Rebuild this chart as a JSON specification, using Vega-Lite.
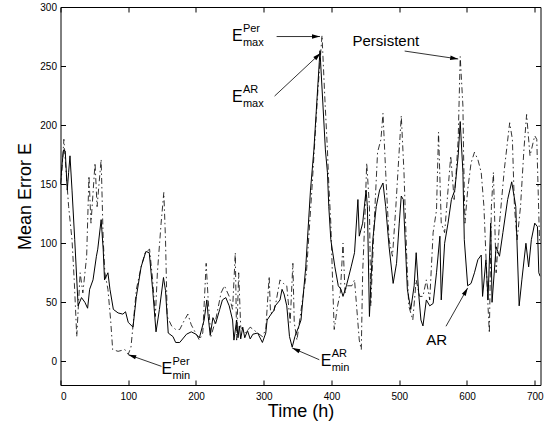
{
  "$schema": "https://vega.github.io/schema/vega-lite/v6.json",
  "width": 480,
  "height": 378,
  "autosize": {"type": "none"},
  "padding": {"left": 60.5, "top": 7, "right": 8.5, "bottom": 41},
  "config": {
    "font": "Liberation Sans",
    "view": {"stroke": null},
    "axis": {
      "domainColor": "black", "domainWidth": 1, "tickColor": "black", "tickSize": -5, "tickWidth": 1,
      "grid": false, "labelColor": "black", "labelFontSize": 10, "titleColor": "black",
      "titleFontSize": 18, "titleFontWeight": "normal"
    }
  },
  "datasets": {
    "lines": [
      {"t":0,"v":150,"s":"AR"},{"t":2,"v":165,"s":"AR"},{"t":4.4,"v":179,"s":"AR"},{"t":7,"v":178,"s":"AR"},{"t":10,"v":145,"s":"AR"},{"t":12,"v":160,"s":"AR"},{"t":14,"v":174,"s":"AR"},{"t":17,"v":145,"s":"AR"},{"t":21,"v":103,"s":"AR"},{"t":26,"v":47,"s":"AR"},{"t":31,"v":54,"s":"AR"},{"t":36,"v":50,"s":"AR"},{"t":40,"v":45,"s":"AR"},{"t":43,"v":61,"s":"AR"},{"t":48,"v":69,"s":"AR"},{"t":53,"v":89,"s":"AR"},{"t":55,"v":95,"s":"AR"},{"t":60,"v":120,"s":"AR"},{"t":63,"v":95,"s":"AR"},{"t":65,"v":69,"s":"AR"},{"t":70,"v":75,"s":"AR"},{"t":73,"v":61,"s":"AR"},{"t":78,"v":44,"s":"AR"},{"t":85,"v":41,"s":"AR"},{"t":92,"v":40,"s":"AR"},{"t":96,"v":42,"s":"AR"},{"t":100,"v":33,"s":"AR"},{"t":107,"v":29,"s":"AR"},{"t":112,"v":55,"s":"AR"},{"t":119,"v":80,"s":"AR"},{"t":126,"v":93,"s":"AR"},{"t":131,"v":92,"s":"AR"},{"t":136,"v":61,"s":"AR"},{"t":141,"v":25,"s":"AR"},{"t":146,"v":44,"s":"AR"},{"t":152,"v":71,"s":"AR"},{"t":155,"v":60,"s":"AR"},{"t":159,"v":24,"s":"AR"},{"t":166,"v":21,"s":"AR"},{"t":170,"v":16,"s":"AR"},{"t":176,"v":16,"s":"AR"},{"t":186,"v":23,"s":"AR"},{"t":193,"v":25,"s":"AR"},{"t":200,"v":23,"s":"AR"},{"t":205,"v":20,"s":"AR"},{"t":212,"v":35,"s":"AR"},{"t":216,"v":52,"s":"AR"},{"t":218,"v":38,"s":"AR"},{"t":221,"v":22,"s":"AR"},{"t":225,"v":37,"s":"AR"},{"t":229,"v":32,"s":"AR"},{"t":235,"v":44,"s":"AR"},{"t":239,"v":52,"s":"AR"},{"t":244,"v":54,"s":"AR"},{"t":249,"v":47,"s":"AR"},{"t":254,"v":35,"s":"AR"},{"t":256,"v":18,"s":"AR"},{"t":260,"v":35,"s":"AR"},{"t":262,"v":20,"s":"AR"},{"t":264,"v":30,"s":"AR"},{"t":266,"v":19,"s":"AR"},{"t":269,"v":29,"s":"AR"},{"t":272,"v":20,"s":"AR"},{"t":276,"v":26,"s":"AR"},{"t":280,"v":19,"s":"AR"},{"t":284,"v":23,"s":"AR"},{"t":291,"v":24,"s":"AR"},{"t":298,"v":16,"s":"AR"},{"t":303,"v":24,"s":"AR"},{"t":305,"v":35,"s":"AR"},{"t":312,"v":41,"s":"AR"},{"t":315,"v":43,"s":"AR"},{"t":317,"v":47,"s":"AR"},{"t":324,"v":52,"s":"AR"},{"t":327,"v":61,"s":"AR"},{"t":330,"v":57,"s":"AR"},{"t":334,"v":47,"s":"AR"},{"t":338,"v":21,"s":"AR"},{"t":342,"v":12,"s":"AR"},{"t":346,"v":21,"s":"AR"},{"t":352,"v":30,"s":"AR"},{"t":355,"v":35,"s":"AR"},{"t":362,"v":80,"s":"AR"},{"t":369,"v":145,"s":"AR"},{"t":374,"v":179,"s":"AR"},{"t":383,"v":263,"s":"AR"},{"t":391,"v":179,"s":"AR"},{"t":394,"v":160,"s":"AR"},{"t":396,"v":131,"s":"AR"},{"t":399,"v":103,"s":"AR"},{"t":405,"v":80,"s":"AR"},{"t":410,"v":64,"s":"AR"},{"t":414,"v":61,"s":"AR"},{"t":417,"v":55,"s":"AR"},{"t":422,"v":64,"s":"AR"},{"t":429,"v":80,"s":"AR"},{"t":434,"v":92,"s":"AR"},{"t":439,"v":137,"s":"AR"},{"t":441,"v":106,"s":"AR"},{"t":446,"v":117,"s":"AR"},{"t":451,"v":145,"s":"AR"},{"t":453,"v":131,"s":"AR"},{"t":456,"v":38,"s":"AR"},{"t":461,"v":103,"s":"AR"},{"t":466,"v":131,"s":"AR"},{"t":471,"v":145,"s":"AR"},{"t":476,"v":151,"s":"AR"},{"t":480,"v":131,"s":"AR"},{"t":485,"v":97,"s":"AR"},{"t":491,"v":66,"s":"AR"},{"t":496,"v":83,"s":"AR"},{"t":500,"v":117,"s":"AR"},{"t":503,"v":140,"s":"AR"},{"t":506,"v":137,"s":"AR"},{"t":512,"v":61,"s":"AR"},{"t":517,"v":44,"s":"AR"},{"t":522,"v":64,"s":"AR"},{"t":525,"v":92,"s":"AR"},{"t":529,"v":55,"s":"AR"},{"t":532,"v":35,"s":"AR"},{"t":535,"v":30,"s":"AR"},{"t":540,"v":52,"s":"AR"},{"t":545,"v":47,"s":"AR"},{"t":550,"v":49,"s":"AR"},{"t":555,"v":75,"s":"AR"},{"t":560,"v":106,"s":"AR"},{"t":562,"v":52,"s":"AR"},{"t":567,"v":100,"s":"AR"},{"t":572,"v":117,"s":"AR"},{"t":577,"v":137,"s":"AR"},{"t":582,"v":145,"s":"AR"},{"t":587,"v":174,"s":"AR"},{"t":590,"v":203,"s":"AR"},{"t":594,"v":160,"s":"AR"},{"t":596,"v":103,"s":"AR"},{"t":601,"v":64,"s":"AR"},{"t":606,"v":66,"s":"AR"},{"t":611,"v":75,"s":"AR"},{"t":616,"v":86,"s":"AR"},{"t":621,"v":90,"s":"AR"},{"t":623,"v":55,"s":"AR"},{"t":628,"v":86,"s":"AR"},{"t":631,"v":52,"s":"AR"},{"t":635,"v":117,"s":"AR"},{"t":637,"v":50,"s":"AR"},{"t":643,"v":97,"s":"AR"},{"t":648,"v":89,"s":"AR"},{"t":653,"v":109,"s":"AR"},{"t":660,"v":137,"s":"AR"},{"t":666,"v":152,"s":"AR"},{"t":672,"v":131,"s":"AR"},{"t":677,"v":47,"s":"AR"},{"t":681,"v":69,"s":"AR"},{"t":687,"v":100,"s":"AR"},{"t":691,"v":80,"s":"AR"},{"t":695,"v":103,"s":"AR"},{"t":700,"v":117,"s":"AR"},{"t":704,"v":114,"s":"AR"},{"t":706,"v":75,"s":"AR"},{"t":708,"v":72,"s":"AR"},
      {"t":0,"v":150,"s":"Persistent"},{"t":2,"v":160,"s":"Persistent"},{"t":5,"v":188,"s":"Persistent"},{"t":7,"v":171,"s":"Persistent"},{"t":12,"v":131,"s":"Persistent"},{"t":17,"v":103,"s":"Persistent"},{"t":20.5,"v":66,"s":"Persistent"},{"t":24,"v":21,"s":"Persistent"},{"t":29,"v":75,"s":"Persistent"},{"t":33,"v":58,"s":"Persistent"},{"t":38.6,"v":89,"s":"Persistent"},{"t":42,"v":157,"s":"Persistent"},{"t":45,"v":117,"s":"Persistent"},{"t":51,"v":168,"s":"Persistent"},{"t":54,"v":131,"s":"Persistent"},{"t":60,"v":171,"s":"Persistent"},{"t":63,"v":103,"s":"Persistent"},{"t":65.5,"v":75,"s":"Persistent"},{"t":70,"v":61,"s":"Persistent"},{"t":74,"v":35,"s":"Persistent"},{"t":77,"v":10,"s":"Persistent"},{"t":85,"v":8.5,"s":"Persistent"},{"t":95,"v":10,"s":"Persistent"},{"t":100,"v":6,"s":"Persistent"},{"t":104,"v":12,"s":"Persistent"},{"t":107,"v":30,"s":"Persistent"},{"t":112,"v":61,"s":"Persistent"},{"t":119,"v":80,"s":"Persistent"},{"t":125,"v":92,"s":"Persistent"},{"t":131.5,"v":95,"s":"Persistent"},{"t":136,"v":69,"s":"Persistent"},{"t":140,"v":38,"s":"Persistent"},{"t":143,"v":75,"s":"Persistent"},{"t":148.5,"v":117,"s":"Persistent"},{"t":152.5,"v":143,"s":"Persistent"},{"t":155,"v":103,"s":"Persistent"},{"t":157.5,"v":38,"s":"Persistent"},{"t":164,"v":30,"s":"Persistent"},{"t":170,"v":27,"s":"Persistent"},{"t":176,"v":27,"s":"Persistent"},{"t":183,"v":35,"s":"Persistent"},{"t":188,"v":40,"s":"Persistent"},{"t":193,"v":31,"s":"Persistent"},{"t":205,"v":18,"s":"Persistent"},{"t":210,"v":24,"s":"Persistent"},{"t":215,"v":83,"s":"Persistent"},{"t":218,"v":52,"s":"Persistent"},{"t":222,"v":21,"s":"Persistent"},{"t":229,"v":35,"s":"Persistent"},{"t":237,"v":58,"s":"Persistent"},{"t":242,"v":64,"s":"Persistent"},{"t":249,"v":55,"s":"Persistent"},{"t":254,"v":44,"s":"Persistent"},{"t":258,"v":92,"s":"Persistent"},{"t":260,"v":18,"s":"Persistent"},{"t":263,"v":75,"s":"Persistent"},{"t":266,"v":29,"s":"Persistent"},{"t":273,"v":24,"s":"Persistent"},{"t":280,"v":29,"s":"Persistent"},{"t":291,"v":24,"s":"Persistent"},{"t":298,"v":21,"s":"Persistent"},{"t":303,"v":27,"s":"Persistent"},{"t":308,"v":72,"s":"Persistent"},{"t":310,"v":41,"s":"Persistent"},{"t":314,"v":41,"s":"Persistent"},{"t":318,"v":50,"s":"Persistent"},{"t":324,"v":69,"s":"Persistent"},{"t":329,"v":66,"s":"Persistent"},{"t":334,"v":64,"s":"Persistent"},{"t":339,"v":33,"s":"Persistent"},{"t":343,"v":83,"s":"Persistent"},{"t":345,"v":33,"s":"Persistent"},{"t":349,"v":18,"s":"Persistent"},{"t":356,"v":47,"s":"Persistent"},{"t":363,"v":75,"s":"Persistent"},{"t":371,"v":145,"s":"Persistent"},{"t":380,"v":230,"s":"Persistent"},{"t":386,"v":276,"s":"Persistent"},{"t":390,"v":225,"s":"Persistent"},{"t":394,"v":179,"s":"Persistent"},{"t":396,"v":150,"s":"Persistent"},{"t":399,"v":117,"s":"Persistent"},{"t":402,"v":61,"s":"Persistent"},{"t":404,"v":27,"s":"Persistent"},{"t":409,"v":47,"s":"Persistent"},{"t":413,"v":58,"s":"Persistent"},{"t":417,"v":100,"s":"Persistent"},{"t":420,"v":58,"s":"Persistent"},{"t":422,"v":64,"s":"Persistent"},{"t":430,"v":64,"s":"Persistent"},{"t":434,"v":69,"s":"Persistent"},{"t":441,"v":18,"s":"Persistent"},{"t":444,"v":10,"s":"Persistent"},{"t":446,"v":75,"s":"Persistent"},{"t":449,"v":117,"s":"Persistent"},{"t":452,"v":168,"s":"Persistent"},{"t":456,"v":131,"s":"Persistent"},{"t":458,"v":47,"s":"Persistent"},{"t":463,"v":117,"s":"Persistent"},{"t":468,"v":177,"s":"Persistent"},{"t":473,"v":188,"s":"Persistent"},{"t":476,"v":210,"s":"Persistent"},{"t":480,"v":160,"s":"Persistent"},{"t":485,"v":103,"s":"Persistent"},{"t":490,"v":89,"s":"Persistent"},{"t":495,"v":131,"s":"Persistent"},{"t":500,"v":179,"s":"Persistent"},{"t":503,"v":208,"s":"Persistent"},{"t":507,"v":160,"s":"Persistent"},{"t":511,"v":89,"s":"Persistent"},{"t":514,"v":47,"s":"Persistent"},{"t":520,"v":35,"s":"Persistent"},{"t":525,"v":69,"s":"Persistent"},{"t":530,"v":55,"s":"Persistent"},{"t":535,"v":55,"s":"Persistent"},{"t":540,"v":69,"s":"Persistent"},{"t":545,"v":52,"s":"Persistent"},{"t":550,"v":109,"s":"Persistent"},{"t":555,"v":128,"s":"Persistent"},{"t":558,"v":194,"s":"Persistent"},{"t":562,"v":117,"s":"Persistent"},{"t":567,"v":109,"s":"Persistent"},{"t":576,"v":174,"s":"Persistent"},{"t":581,"v":137,"s":"Persistent"},{"t":584,"v":160,"s":"Persistent"},{"t":587,"v":188,"s":"Persistent"},{"t":590,"v":258,"s":"Persistent"},{"t":594,"v":216,"s":"Persistent"},{"t":595,"v":174,"s":"Persistent"},{"t":597,"v":117,"s":"Persistent"},{"t":601,"v":145,"s":"Persistent"},{"t":606,"v":168,"s":"Persistent"},{"t":611,"v":177,"s":"Persistent"},{"t":616,"v":171,"s":"Persistent"},{"t":621,"v":160,"s":"Persistent"},{"t":625,"v":131,"s":"Persistent"},{"t":629,"v":75,"s":"Persistent"},{"t":631,"v":47,"s":"Persistent"},{"t":633,"v":24,"s":"Persistent"},{"t":636,"v":131,"s":"Persistent"},{"t":639,"v":160,"s":"Persistent"},{"t":643,"v":75,"s":"Persistent"},{"t":648,"v":117,"s":"Persistent"},{"t":655,"v":162,"s":"Persistent"},{"t":663,"v":202,"s":"Persistent"},{"t":667,"v":188,"s":"Persistent"},{"t":670,"v":131,"s":"Persistent"},{"t":674,"v":103,"s":"Persistent"},{"t":679,"v":131,"s":"Persistent"},{"t":684,"v":179,"s":"Persistent"},{"t":688,"v":209,"s":"Persistent"},{"t":693,"v":174,"s":"Persistent"},{"t":700,"v":191,"s":"Persistent"},{"t":703,"v":188,"s":"Persistent"},{"t":707,"v":103,"s":"Persistent"},{"t":708,"v":100,"s":"Persistent"}
    ],
    "elabels": [
      {"t":253,"v":271,"sup":"Per","sub":"max"},
      {"t":253,"v":220,"sup":"AR","sub":"max"},
      {"t":149,"v":-10.4,"sup":"Per","sub":"min"},
      {"t":384,"v":-4.2,"sup":"AR","sub":"min"}
    ],
    "notes": [
      {"t":431,"v":267,"text":"Persistent"},
      {"t":540,"v":14,"text":"AR"}
    ],
    "arrows": [
      {"id":"pmax","t":383,"v":275,"t2":319,"v2":275},
      {"id":"amax","t":384,"v":261,"t2":316,"v2":224.6},
      {"id":"pers","t":587,"v":256,"t2":508,"v2":262.7},
      {"id":"pmin","t":100,"v":5.7,"t2":149,"v2":-4.2},
      {"id":"amin","t":342,"v":11.3,"t2":382,"v2":1.4},
      {"id":"ar","t":601,"v":62.2,"t2":569,"v2":29.7}
    ]
  },
  "layer": [
    {
      "data": {"name": "lines"},
      "transform": [{"filter": "datum.s == 'Persistent'"}],
      "mark": {"type": "line", "color": "black", "strokeWidth": 0.8, "strokeDash": [6, 3, 1.5, 3], "clip": true},
      "encoding": {
        "x": {"field": "t", "type": "quantitative", "scale": {"domain": [0, 708.5], "nice": false, "zero": false},
              "axis": {"orient": "top", "values": [0,100,200,300,400,500,600,700], "labels": false, "title": null}},
        "y": {"field": "v", "type": "quantitative", "scale": {"domain": [-20, 300], "nice": false, "zero": false},
              "axis": {"orient": "right", "values": [0,50,100,150,200,250,300], "labels": false, "title": null}}
      }
    },
    {
      "data": {"name": "lines"},
      "transform": [{"filter": "datum.s == 'AR'"}],
      "mark": {"type": "line", "color": "black", "strokeWidth": 1, "clip": true},
      "encoding": {
        "x": {"field": "t", "type": "quantitative", "title": "Time (h)",
              "axis": {"orient": "bottom", "values": [0,100,200,300,400,500,600,700], "labelPadding": 11, "titlePadding": 1}},
        "y": {"field": "v", "type": "quantitative", "title": "Mean Error E",
              "axis": {"orient": "left", "values": [0,50,100,150,200,250,300], "labelPadding": 9, "titlePadding": 5}}
      }
    },
    {
      "data": {"name": "arrows"},
      "mark": {"type": "rule", "color": "black", "strokeWidth": 0.8},
      "encoding": {
        "x": {"field": "t", "type": "quantitative", "axis": null},
        "y": {"field": "v", "type": "quantitative", "axis": null},
        "x2": {"field": "t2"},
        "y2": {"field": "v2"}
      }
    },
    {
      "data": {"name": "arrows"},
      "transform": [{"filter": "datum.id == 'pmax'"}],
      "mark": {"type": "point", "shape": "M0,0L1.1,4L-1.1,4Z", "size": 16, "filled": true, "color": "black", "opacity": 1, "angle": 90},
      "encoding": {"x": {"field": "t", "type": "quantitative", "axis": null}, "y": {"field": "v", "type": "quantitative", "axis": null}}
    },
    {
      "data": {"name": "arrows"},
      "transform": [{"filter": "datum.id == 'amax'"}],
      "mark": {"type": "point", "shape": "M0,0L1.1,4L-1.1,4Z", "size": 16, "filled": true, "color": "black", "opacity": 1, "angle": 47},
      "encoding": {"x": {"field": "t", "type": "quantitative", "axis": null}, "y": {"field": "v", "type": "quantitative", "axis": null}}
    },
    {
      "data": {"name": "arrows"},
      "transform": [{"filter": "datum.id == 'pers'"}],
      "mark": {"type": "point", "shape": "M0,0L1.1,4L-1.1,4Z", "size": 16, "filled": true, "color": "black", "opacity": 1, "angle": 99},
      "encoding": {"x": {"field": "t", "type": "quantitative", "axis": null}, "y": {"field": "v", "type": "quantitative", "axis": null}}
    },
    {
      "data": {"name": "arrows"},
      "transform": [{"filter": "datum.id == 'pmin'"}],
      "mark": {"type": "point", "shape": "M0,0L1.1,4L-1.1,4Z", "size": 16, "filled": true, "color": "black", "opacity": 1, "angle": 289},
      "encoding": {"x": {"field": "t", "type": "quantitative", "axis": null}, "y": {"field": "v", "type": "quantitative", "axis": null}}
    },
    {
      "data": {"name": "arrows"},
      "transform": [{"filter": "datum.id == 'amin'"}],
      "mark": {"type": "point", "shape": "M0,0L1.1,4L-1.1,4Z", "size": 16, "filled": true, "color": "black", "opacity": 1, "angle": 294},
      "encoding": {"x": {"field": "t", "type": "quantitative", "axis": null}, "y": {"field": "v", "type": "quantitative", "axis": null}}
    },
    {
      "data": {"name": "arrows"},
      "transform": [{"filter": "datum.id == 'ar'"}],
      "mark": {"type": "point", "shape": "M0,0L1.1,4L-1.1,4Z", "size": 16, "filled": true, "color": "black", "opacity": 1, "angle": 29},
      "encoding": {"x": {"field": "t", "type": "quantitative", "axis": null}, "y": {"field": "v", "type": "quantitative", "axis": null}}
    },
    {
      "data": {"name": "elabels"},
      "mark": {"type": "text", "align": "left", "baseline": "alphabetic", "fontSize": 16, "color": "black"},
      "encoding": {"x": {"field": "t", "type": "quantitative", "axis": null}, "y": {"field": "v", "type": "quantitative", "axis": null}, "text": {"value": "E"}}
    },
    {
      "data": {"name": "elabels"},
      "mark": {"type": "text", "align": "left", "baseline": "alphabetic", "fontSize": 11, "dx": 11, "dy": -9, "color": "black"},
      "encoding": {"x": {"field": "t", "type": "quantitative", "axis": null}, "y": {"field": "v", "type": "quantitative", "axis": null}, "text": {"field": "sup"}}
    },
    {
      "data": {"name": "elabels"},
      "mark": {"type": "text", "align": "left", "baseline": "alphabetic", "fontSize": 11, "dx": 11, "dy": 5, "color": "black"},
      "encoding": {"x": {"field": "t", "type": "quantitative", "axis": null}, "y": {"field": "v", "type": "quantitative", "axis": null}, "text": {"field": "sub"}}
    },
    {
      "data": {"name": "notes"},
      "mark": {"type": "text", "align": "left", "baseline": "alphabetic", "fontSize": 15, "color": "black"},
      "encoding": {"x": {"field": "t", "type": "quantitative", "axis": null}, "y": {"field": "v", "type": "quantitative", "axis": null}, "text": {"field": "text"}}
    }
  ],
  "resolve": {"axis": {"x": "independent", "y": "independent"}}
}
